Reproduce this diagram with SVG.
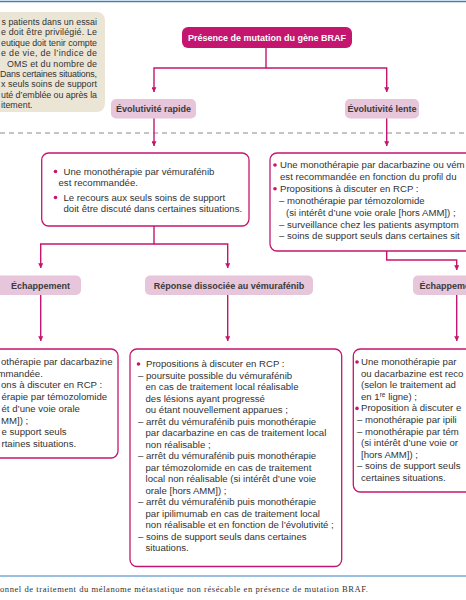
<svg xmlns="http://www.w3.org/2000/svg" width="466" height="600" viewBox="0 0 466 600">
<defs>
<style>
.t{font-family:"Liberation Sans",Arial,sans-serif;font-size:9.6px;fill:#333}
.nb{font-family:"Liberation Sans",Arial,sans-serif;font-size:8.9px;fill:#333}
.lb{font-family:"Liberation Sans",Arial,sans-serif;font-size:9px;font-weight:bold;fill:#3a3a3a;text-anchor:middle}
.ti{font-family:"Liberation Sans",Arial,sans-serif;font-size:9px;font-weight:bold;fill:#fff;text-anchor:middle}
.cap{font-family:"Liberation Serif","Times New Roman",serif;font-size:8.6px;fill:#333}
.box{fill:#fff;stroke:#c5166f;stroke-width:1.3}
.lab{fill:#e7c5db}
.c{fill:none;stroke:#c5166f;stroke-width:1.4}
.bu{fill:#c5166f}
</style>
<marker id="ah" viewBox="0 0 8 8" refX="7.5" refY="4" markerWidth="5" markerHeight="5" markerUnits="userSpaceOnUse" orient="auto">
<path d="M0,0 L8,4 L0,8 z" fill="#c5166f"/>
</marker>
</defs>
<rect width="466" height="600" fill="#fff"/>
<line x1="0" y1="1.5" x2="466" y2="1.5" stroke="#3b7fbf" stroke-width="1.5"/>
<line x1="0" y1="133" x2="466" y2="133" stroke="#8a8a8a" stroke-width="1" stroke-dasharray="5,4"/>
<line x1="0" y1="576" x2="466" y2="576" stroke="#3b7fbf" stroke-width="1.2"/>

<g id="note">
<path d="M-10,12 H96 Q105,12 105,21 V103 Q105,112 96,112 H-10 Z" fill="#ebe5d5"/>
<text class="nb" x="1.5" y="25" textLength="95.5" lengthAdjust="spacing">s patients dans un essai</text>
<text class="nb" x="1" y="35.4" textLength="96" lengthAdjust="spacing">e doit être privilégié. Le</text>
<text class="nb" x="1" y="45.8" textLength="96" lengthAdjust="spacing">eutique doit tenir compte</text>
<text class="nb" x="1" y="56.2" textLength="96" lengthAdjust="spacing">e de vie, de l’indice de</text>
<text class="nb" x="7" y="66.6" textLength="90" lengthAdjust="spacing">OMS et du nombre de</text>
<text class="nb" x="0" y="77" textLength="97" lengthAdjust="spacing">Dans certaines situations,</text>
<text class="nb" x="1" y="87.4" textLength="96" lengthAdjust="spacing">x seuls soins de support</text>
<text class="nb" x="1" y="97.8" textLength="96" lengthAdjust="spacing">uté d’emblée ou après la</text>
<text class="nb" x="1" y="108.2">itement.</text>
</g>

<g id="connectors">
<path class="c" d="M266,48 V68 H154 V92" marker-end="url(#ah)"/>
<path class="c" d="M266,68 H386.7 V92" marker-end="url(#ah)"/>
<path class="c" d="M154,118 V146" marker-end="url(#ah)"/>
<path class="c" d="M386.7,118 V146" marker-end="url(#ah)"/>
<path class="c" d="M154,226 V244 H40.7 V268" marker-end="url(#ah)"/>
<path class="c" d="M154,244 H227.7 V268" marker-end="url(#ah)"/>
<path class="c" d="M386.7,251 V260 H456.7 V270" marker-end="url(#ah)"/>
<path class="c" d="M40.7,295 V341" marker-end="url(#ah)"/>
<path class="c" d="M227.7,295 V341" marker-end="url(#ah)"/>
<path class="c" d="M456.7,295 V341" marker-end="url(#ah)"/>
</g>

<g id="braf">
<rect x="182" y="27" width="170" height="21" rx="6" fill="#c5166f"/>
<text class="ti" x="267" y="40.8">Présence de mutation du gène BRAF</text>
</g>

<g id="evol-rapide">
<rect class="lab" x="111" y="99" width="85" height="19.5" rx="5"/>
<text class="lb" x="153.5" y="112">Évolutivité rapide</text>
</g>

<g id="evol-lente">
<rect class="lab" x="345" y="99" width="74" height="19.5" rx="5"/>
<text class="lb" x="382" y="112">Évolutivité lente</text>
</g>

<g id="vemurafenib">
<rect class="box" x="41.7" y="153" width="207.3" height="73" rx="7"/>
<circle class="bu" cx="55.5" cy="171.5" r="1.8"/>
<text class="t" x="63.5" y="174.5">Une monothérapie par vémurafénib</text>
<text class="t" x="58.5" y="185.5">est recommandée.</text>
<circle class="bu" cx="55.5" cy="197.5" r="1.8"/>
<text class="t" x="63.5" y="200.5">Le recours aux seuls soins de support</text>
<text class="t" x="63.5" y="211.5">doit être discuté dans certaines situations.</text>
</g>

<g id="dacarbazine">
<rect class="box" x="270" y="153" width="220" height="98" rx="7"/>
<circle class="bu" cx="275" cy="165" r="1.8"/>
<text class="t" x="280" y="168">Une monothérapie par dacarbazine ou vém</text>
<text class="t" x="280" y="179.9">est recommandée en fonction du profil du</text>
<circle class="bu" cx="275" cy="188.8" r="1.8"/>
<text class="t" x="280" y="191.8">Propositions à discuter en RCP :</text>
<text class="t" x="279" y="203.7">– monothérapie par témozolomide</text>
<text class="t" x="286" y="215.6">(si intérêt d’une voie orale [hors AMM]) ;</text>
<text class="t" x="279" y="227.5">– surveillance chez les patients asymptom</text>
<text class="t" x="279" y="239.4">– soins de support seuls dans certaines sit</text>
</g>

<g id="echap-gauche">
<rect class="lab" x="-6" y="275.5" width="87" height="19.5" rx="5"/>
<text class="lb" x="40.5" y="288.5">Échappement</text>
</g>

<g id="reponse">
<rect class="lab" x="145" y="275.5" width="168" height="19.5" rx="5"/>
<text class="lb" x="229" y="288.5">Réponse dissociée au vémurafénib</text>
</g>

<g id="echap-droite">
<rect class="lab" x="413" y="275.5" width="87" height="19.5" rx="5"/>
<text class="lb" x="419.5" y="288.5" style="text-anchor:start">Échappement</text>
</g>

<g id="gauche-bas">
<rect class="box" x="-10" y="349" width="128" height="109" rx="7"/>
<text class="t" x="1" y="365">othérapie par dacarbazine</text>
<text class="t" x="-2.5" y="376.7">mmandée.</text>
<text class="t" x="1" y="388.4">ons à discuter en RCP :</text>
<text class="t" x="1.5" y="400.1">érapie par témozolomide</text>
<text class="t" x="1.5" y="411.8">ét d’une voie orale</text>
<text class="t" x="1" y="423.5">MM]) ;</text>
<text class="t" x="1.5" y="435.2">e support seuls</text>
<text class="t" x="1.5" y="446.9">rtaines situations.</text>
</g>

<g id="reponse-bas">
<rect class="box" x="130" y="349" width="211.7" height="217.5" rx="7"/>
<circle class="bu" cx="138.5" cy="364" r="1.8"/>
<text class="t" x="146" y="367">Propositions à discuter en RCP :</text>
<text class="t" x="138" y="378.5">– poursuite possible du vémurafénib</text>
<text class="t" x="145.5" y="390">en cas de traitement local réalisable</text>
<text class="t" x="145.5" y="401.5">des lésions ayant progressé</text>
<text class="t" x="145.5" y="413">ou étant nouvellement apparues ;</text>
<text class="t" x="138" y="424.5">– arrêt du vémurafénib puis monothérapie</text>
<text class="t" x="145.5" y="436">par dacarbazine en cas de traitement local</text>
<text class="t" x="145.5" y="447.5">non réalisable ;</text>
<text class="t" x="138" y="459">– arrêt du vémurafénib puis monothérapie</text>
<text class="t" x="145.5" y="470.5">par témozolomide en cas de traitement</text>
<text class="t" x="145.5" y="482">local non réalisable (si intérêt d’une voie</text>
<text class="t" x="145.5" y="493.5">orale [hors AMM]) ;</text>
<text class="t" x="138" y="505">– arrêt du vémurafénib puis monothérapie</text>
<text class="t" x="145.5" y="516.5">par ipilimumab en cas de traitement local</text>
<text class="t" x="145.5" y="528">non réalisable et en fonction de l’évolutivité ;</text>
<text class="t" x="138" y="539.5">– soins de support seuls dans certaines</text>
<text class="t" x="145.5" y="551">situations.</text>
</g>

<g id="droite-bas">
<rect class="box" x="353.3" y="349" width="140" height="143" rx="7"/>
<circle class="bu" cx="357" cy="362" r="1.8"/>
<text class="t" x="361" y="365">Une monothérapie par</text>
<text class="t" x="361" y="376.6">ou dacarbazine est reco</text>
<text class="t" x="361" y="388.2">(selon le traitement ad</text>
<text class="t" x="361" y="399.8">en 1<tspan font-size="6.5" dy="-3">re</tspan><tspan dy="3"> ligne) ;</tspan></text>
<circle class="bu" cx="357" cy="408.4" r="1.8"/>
<text class="t" x="361" y="411.4">Proposition à discuter e</text>
<text class="t" x="357" y="423">– monothérapie par ipili</text>
<text class="t" x="357" y="434.6">– monothérapie par tém</text>
<text class="t" x="361" y="446.2">(si intérêt d’une voie or</text>
<text class="t" x="361" y="457.8">[hors AMM]) ;</text>
<text class="t" x="357" y="469.4">– soins de support seuls</text>
<text class="t" x="361" y="481">certaines situations.</text>
</g>

<text class="cap" x="0" y="592" textLength="368" lengthAdjust="spacing">onnel de traitement du mélanome métastatique non résécable en présence de mutation BRAF.</text>
</svg>
